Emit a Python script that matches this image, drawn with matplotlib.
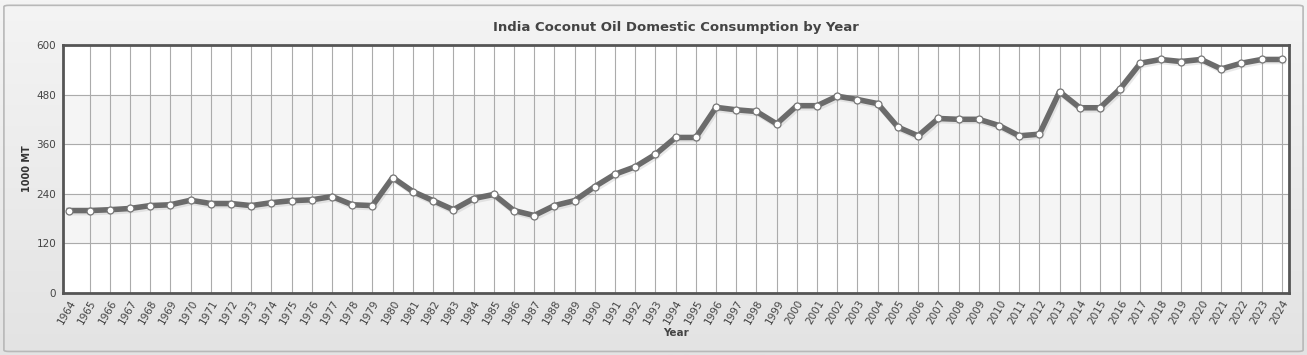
#! /usr/bin/env python
# -*- coding: utf-8 -*-

# India coconut oil domestic consumption, 1964-2024, gray line chart

import numpy as np
from matplotlib import pyplot as plt
from matplotlib import patheffects as pe
from matplotlib.colors import LinearSegmentedColormap
from matplotlib.patches import FancyBboxPatch

years = list(range(1964, 2025))
consumption = [199, 199, 201, 204, 211, 213, 224, 216, 216, 211,
               218, 223, 225, 233, 213, 211, 279, 245, 223, 201,
               228, 238, 199, 187, 211, 223, 257, 287, 305, 335,
               376, 376, 449, 443, 439, 409, 453, 453, 476, 468,
               458, 401, 380, 422, 420, 420, 405, 380, 384, 487,
               448, 448, 494, 556, 565, 560, 565, 542, 556, 565,
               565]
yticks = [0, 120, 240, 360, 480, 600]

title = "India Coconut Oil Domestic Consumption by Year"
txtColor = '#444444'

fig = plt.figure(figsize=(13.07, 3.55), dpi=100)

# Light gray rounded panel behind everything
bg = fig.add_axes([0, 0, 1, 1], zorder=-10)
bg.axis('off')
grad = np.linspace(0, 1, 256).reshape(-1, 1)
bg.imshow(grad, aspect='auto', cmap=LinearSegmentedColormap.from_list('bg', ['#e3e3e3', '#f4f4f4']),
          extent=[0, 1, 0, 1], origin='lower')
bg.add_patch(FancyBboxPatch((0.003, 0.01), 0.994, 0.975, boxstyle="round,pad=0,rounding_size=0.004",
                            transform=bg.transAxes, fill=False, edgecolor='#b8b8b8', lw=1.2))
bg.set_xlim(0, 1)
bg.set_ylim(0, 1)

ax = fig.add_axes([0.0484, 0.1755, 0.9378, 0.6977])
ax.set_facecolor('white')

# alternating horizontal bands
for i in range(len(yticks) - 1):
    if i % 2 == 1:
        ax.axhspan(yticks[i], yticks[i + 1], color='#f5f5f5', zorder=0)

ax.plot(years, consumption, color='#6b6b6b', lw=4, zorder=3,
        solid_joinstyle='round',
        path_effects=[pe.SimpleLineShadow(offset=(1, -1.5), shadow_color='#888888', alpha=0.18),
                      pe.Normal()])
ax.plot(years, consumption, 'o', ms=5, mfc='white', mec='#777777', mew=0.9, zorder=4)

ax.set_xlim(1963.7, 2024.35)
ax.set_ylim(0, 600)
ax.set_xticks(years)
ax.set_xticklabels([str(y) for y in years], rotation=60, ha='right', rotation_mode='anchor',
                   fontsize=7.5, color=txtColor)
ax.set_yticks(yticks)
ax.set_yticklabels([str(v) for v in yticks], fontsize=7.5, color=txtColor)
ax.tick_params(axis='both', length=0)
ax.tick_params(axis='x', pad=4)
ax.tick_params(axis='y', pad=5)

ax.grid(True, color='#ababab', lw=0.8, zorder=1)
ax.set_axisbelow(True)
ax.get_xgridlines()[0].set_visible(False)
for s in ax.spines.values():
    s.set_color('#555555')
    s.set_linewidth(2)

ax.set_xlabel('Year', fontsize=7.5, fontweight='bold', color=txtColor, labelpad=1)
ax.set_ylabel('1000 MT', fontsize=7, fontweight='bold', color='#333333', labelpad=3)

fig.text(0.5175, 0.922, title, ha='center', va='center', fontsize=9.5,
         fontweight='bold', color=txtColor)

plt.savefig("out.png", dpi=100)
plt.clf()
